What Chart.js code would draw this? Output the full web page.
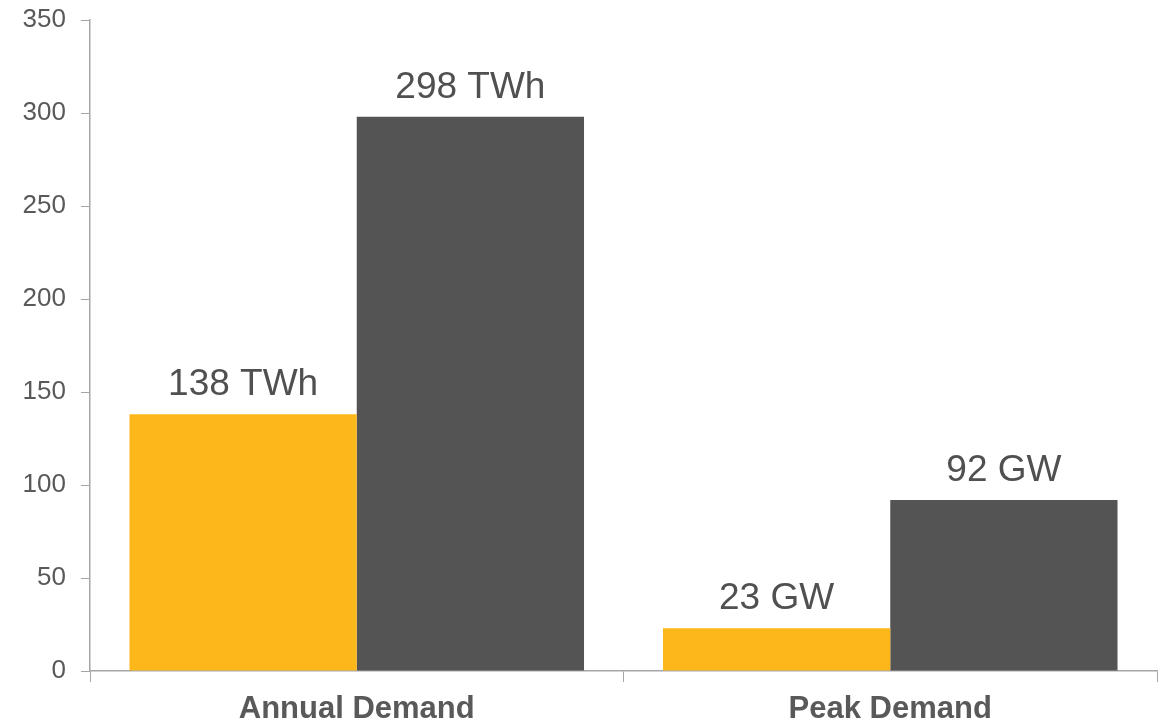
<!DOCTYPE html>
<html>
<head>
<meta charset="utf-8">
<script src="https://cdn.jsdelivr.net/npm/chart.js@4"></script>
<style>
  html, body { margin: 0; padding: 0; background: #fff; }
  #wrap { width: 1166px; height: 724px; }
</style>
</head>
<body>
<div id="wrap"><canvas id="chart"></canvas></div>
<script>
const categories = ['Annual Demand', 'Peak Demand'];
const currentValues = [138, 23];
const futureValues = [298, 92];
const currentLabels = ['138 TWh', '23 GW'];
const futureLabels = ['298 TWh', '92 GW'];
const yTicks = [0, 50, 100, 150, 200, 250, 300, 350];

const axisColor = '#a6a6a6';
const textColor = '#595959';

// draw the value text above each bar
const barLabels = {
  id: 'barLabels',
  afterDatasetsDraw(chart) {
    const ctx = chart.ctx;
    const texts = [currentLabels, futureLabels];
    ctx.save();
    ctx.font = '37px "Liberation Sans", Arial, sans-serif';
    ctx.fillStyle = '#505050';
    ctx.textAlign = 'center';
    ctx.textBaseline = 'alphabetic';
    chart.data.datasets.forEach((ds, i) => {
      chart.getDatasetMeta(i).data.forEach((bar, j) => {
        ctx.fillText(texts[i][j], bar.x, bar.y - 19);
      });
    });
    ctx.restore();
  }
};

new Chart(document.getElementById('chart'), {
  type: 'bar',
  data: {
    labels: categories,
    datasets: [
      { label: 'Current', data: currentValues, backgroundColor: '#fdb71a' },
      { label: 'Future', data: futureValues, backgroundColor: '#545454' }
    ]
  },
  options: {
    responsive: true,
    maintainAspectRatio: false,
    animation: false,
    layout: { padding: { top: 20, right: 9, left: 0, bottom: 0 } },
    datasets: { bar: { categoryPercentage: 0.852, barPercentage: 1.0 } },
    plugins: { legend: { display: false }, tooltip: { enabled: false } },
    scales: {
      x: {
        grid: { drawOnChartArea: false, color: axisColor, tickLength: 11, offset: true },
        border: { color: axisColor, width: 1.5 },
        ticks: {
          color: textColor,
          padding: 9,
          font: { family: '"Liberation Sans", Arial, sans-serif', size: 31, weight: 'bold' }
        },
        afterFit(scale) { scale.height = 53; }
      },
      y: {
        min: 0,
        max: 350,
        afterBuildTicks(scale) { scale.ticks = yTicks.map(v => ({ value: v })); },
        grid: { drawOnChartArea: false, color: axisColor, tickLength: 9 },
        border: { color: axisColor, width: 1.5 },
        ticks: {
          color: textColor,
          padding: 15,
          font: { family: '"Liberation Sans", Arial, sans-serif', size: 26 }
        },
        afterFit(scale) {
          scale.width = 90;
          scale.paddingTop = 0;
          scale.paddingBottom = 0;
        }
      }
    }
  },
  plugins: [barLabels]
});
</script>
</body>
</html>
